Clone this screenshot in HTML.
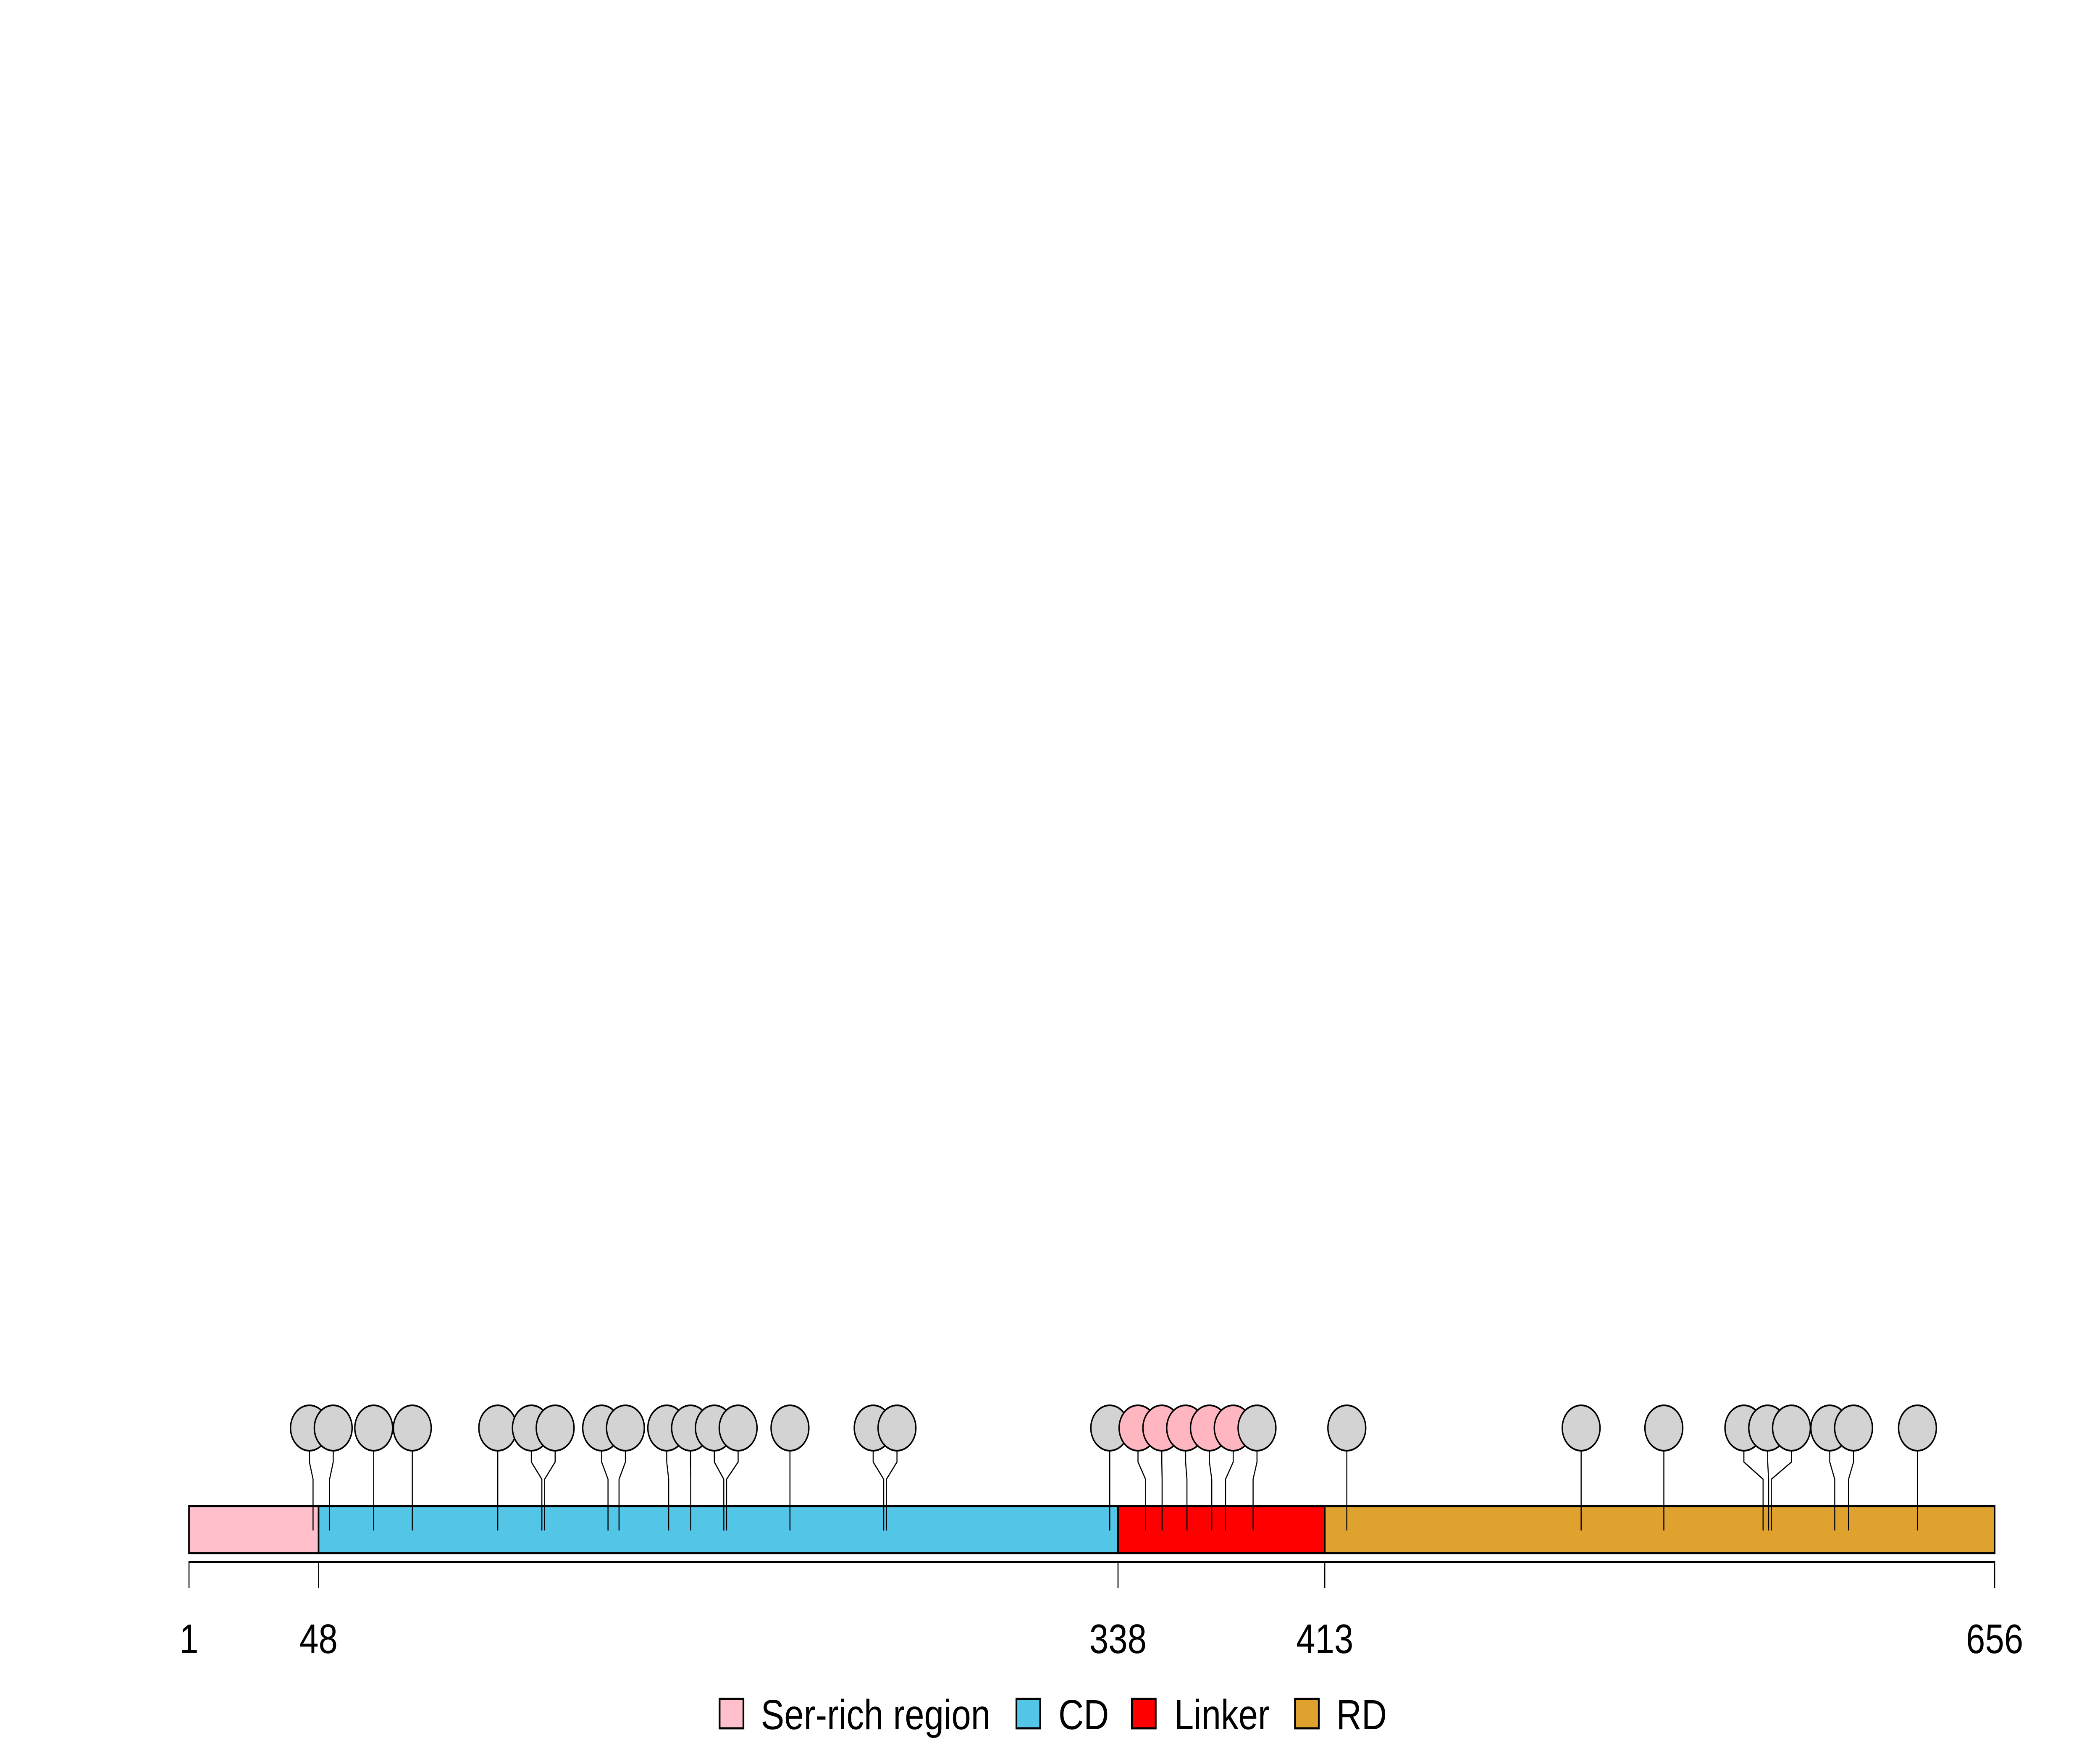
<!DOCTYPE html>
<html><head><meta charset="utf-8"><style>html,body{margin:0;padding:0;background:#fff;width:100%;height:100%;overflow:hidden}svg{display:block;width:100vw;height:100vh}text{font-family:"Liberation Sans",sans-serif}</style></head>
<body>
<svg id="chart" xmlns="http://www.w3.org/2000/svg" viewBox="0 0 6000 4200" preserveAspectRatio="none">
<rect width="6000" height="4200" fill="#fff"/>
<g id="domains"></g>
<g id="axis"></g>
<g id="lollis"></g>
<g id="legend"></g>
</svg>
<script>
const domainNames = ["Ser-rich region", "CD", "Linker", "RD"];
const domainStarts = [1, 48, 338, 413];
const domainEnds = [48, 338, 413, 656];
const domainColors = ["#FFC0CB", "#53C5E7", "#FF0000", "#DFA22F"];
const tickValues = [1, 48, 338, 413, 656];
const sitePositions = [46, 52, 68, 82, 113, 129, 130, 153, 157, 175, 183, 195, 196, 219, 253, 254, 335, 348, 354, 363, 372, 377, 387, 421, 506, 536, 572, 574, 575, 598, 603, 628];
const siteHighlighted = [0,0,0,0,0,0,0,0,0,0,0,0,0,0,0,0,0,1,1,1,1,1,0,0,0,0,0,0,0,0,0,0];

const NS = "http://www.w3.org/2000/svg";
const x0 = 540, x1 = 5699, pMin = 1, pMax = 656;
function xs(p){ return x0 + (p - pMin) * (x1 - x0) / (pMax - pMin); }
function mk(tag, attrs, parent){ const e = document.createElementNS(NS, tag); for (const k in attrs) e.setAttribute(k, attrs[k]); parent.appendChild(e); return e; }

const barTop = 3586, barBot = 3698;
const dg = document.getElementById('domains');
domainNames.forEach((n, i) => {
  const r = mk('rect', {x: xs(domainStarts[i]), y: barTop, width: xs(domainEnds[i]) - xs(domainStarts[i]), height: barBot - barTop, fill: domainColors[i], stroke: '#000', 'stroke-width': 4.5}, dg);
  
  
});

const ag = document.getElementById('axis');
const al = mk('line', {x1: xs(pMin), x2: xs(pMax), y1: 3719, y2: 3719, stroke: '#000', 'stroke-width': 4}, ag);


tickValues.forEach(v => {
  const t = mk('line', {x1: xs(v), x2: xs(v), y1: 3717, y2: 3781, stroke: '#000', 'stroke-width': 3}, ag);
  
  
  const tx = mk('text', {x: xs(v), y: 3936, 'font-size': 98, 'text-anchor': 'middle', fill: '#000'}, ag);
  tx.textContent = v;
  
  
});

const stemX = sitePositions.map(xs);
const headX = stemX.slice();
const D = 68;
for (let it = 0; it < 400; it++) {
  for (let i = 0; i < headX.length - 1; i++) {
    const d = headX[i+1] - headX[i];
    if (d < D) { const s = (D - d) / 2; headX[i] -= s; headX[i+1] += s; }
  }
}
const lg = document.getElementById('lollis');
const cy = 3400, r = 54;
sitePositions.forEach((p, i) => {
  const g = mk('g', {}, lg);
  
  
  const pl = mk('polyline', {points: `${headX[i]},${cy + r} ${headX[i]},3481 ${stemX[i]},3522 ${stemX[i]},3644`, fill: 'none', stroke: '#000', 'stroke-width': 3}, g);
  
  
  const c = mk('circle', {cx: headX[i], cy: cy, r: r, fill: siteHighlighted[i] ? '#FFB6C1' : '#D3D3D3', stroke: '#000', 'stroke-width': 4}, g);
  
  
});

const lgd = document.getElementById('legend');
const boxX = [2056, 2904, 3234, 3700];
const txtX = [2174, 3024, 3355, 3818];
domainNames.forEach((n, i) => {
  const g = mk('g', {}, lgd);
  
  
  const b = mk('rect', {x: boxX[i], y: 4045, width: 68, height: 70, fill: domainColors[i], stroke: '#000', 'stroke-width': 5}, g);
  
  
  const t = mk('text', {x: txtX[i], y: 4117, 'font-size': 100, fill: '#000'}, g);
  t.textContent = n;
  
  
});
</script>
</body></html>
